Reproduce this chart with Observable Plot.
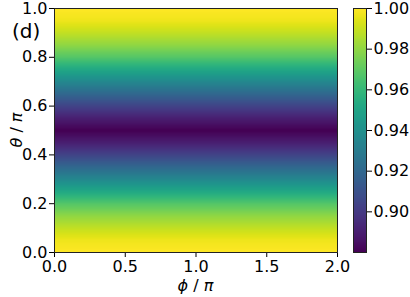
<!DOCTYPE html>
<html>
<head>
<meta charset="utf-8">
<script src="https://cdn.jsdelivr.net/npm/d3@7"></script>
<script src="https://cdn.jsdelivr.net/npm/@observablehq/plot@0.6"></script>
<style>
  body { margin: 0; background: white; }
  #wrap { position: relative; width: 410px; height: 297px; overflow: hidden; font-family: "DejaVu Sans", sans-serif; background: white; }
  #main, #cbar { position: absolute; top: 0; }
  #main { left: 0; }
  #cbar { left: 345px; }
</style>
</head>
<body>
<div id="wrap"><div id="main"></div><div id="cbar"></div></div>
<script>
// θ/π sample positions and the colour value read along θ (constant in φ)
const theta = [0, 0.05, 0.10, 0.15, 0.20, 0.25, 0.30, 0.35, 0.40, 0.45, 0.50,
               0.55, 0.60, 0.65, 0.70, 0.75, 0.80, 0.85, 0.90, 0.95, 1.00];
const value = [1.000, 0.997, 0.989, 0.980, 0.968, 0.952, 0.936, 0.920, 0.904, 0.890, 0.880,
               0.890, 0.904, 0.920, 0.936, 0.952, 0.968, 0.980, 0.989, 0.997, 1.000];
const phiRange = [0, 2];
const thetaRange = [0, 1];
const colorDomain = [0.88, 1.00];
const xTicks = [0, 0.5, 1.0, 1.5, 2.0];
const yTicks = [0, 0.2, 0.4, 0.6, 0.8, 1.0];
const cbTicks = [0.90, 0.92, 0.94, 0.96, 0.98, 1.00];
const panelLabel = "(d)";

const rows = theta.flatMap((t, i) => phiRange.map(p => ({phi: p, theta: t, v: value[i]})));

const style = {fontFamily: "DejaVu Sans, sans-serif", fontSize: "16px", color: "black", background: "transparent", overflow: "visible"};
const color = {type: "linear", scheme: "viridis", domain: colorDomain};

const main = Plot.plot({
  width: 345, height: 297,
  marginLeft: 54, marginRight: 8, marginTop: 8, marginBottom: 45,
  style,
  x: {domain: phiRange, ticks: xTicks, tickFormat: ".1f", tickSize: 5, tickPadding: 3, label: null},
  y: {domain: thetaRange, ticks: yTicks, tickFormat: ".1f", tickSize: 5, tickPadding: 2, label: null},
  color,
  marks: [
    Plot.raster(rows, {x: "phi", y: "theta", fill: "v", x1: phiRange[0], x2: phiRange[1], y1: thetaRange[0], y2: thetaRange[1], interpolate: "barycentric"}),
    Plot.frame({stroke: "#222", strokeWidth: 1})
  ]
});
document.getElementById("main").appendChild(main);

const svg = d3.select(main);
const xl = svg.append("text").attr("x", 195.5).attr("y", 291).attr("text-anchor", "middle")
  .attr("fill", "black").style("font-size", "16px");
xl.append("tspan").attr("font-style", "italic").text("ϕ");
xl.append("tspan").text(" / ");
xl.append("tspan").attr("font-style", "italic").text("π");

const yl = svg.append("text").attr("transform", "translate(22,130) rotate(-90)").attr("text-anchor", "middle")
  .attr("fill", "black").style("font-size", "16px");
yl.append("tspan").attr("font-style", "italic").text("θ");
yl.append("tspan").text(" / ");
yl.append("tspan").attr("font-style", "italic").text("π");

svg.append("text").attr("x", 12).attr("y", 38).attr("text-anchor", "start")
  .attr("fill", "black").style("font-size", "20px").text(panelLabel);

const cbar = Plot.plot({
  width: 65, height: 297,
  marginLeft: 8, marginRight: 44, marginTop: 8, marginBottom: 45,
  style,
  x: {domain: [0, 1], axis: null},
  y: {domain: colorDomain, axis: "right", ticks: cbTicks, tickFormat: ".2f", tickSize: 5, tickPadding: 2, label: null},
  color,
  marks: [
    Plot.raster({x1: 0, x2: 1, y1: colorDomain[0], y2: colorDomain[1], fill: (x, y) => y}),
    Plot.frame({stroke: "#222", strokeWidth: 1})
  ]
});
document.getElementById("cbar").appendChild(cbar);
</script>
</body>
</html>
